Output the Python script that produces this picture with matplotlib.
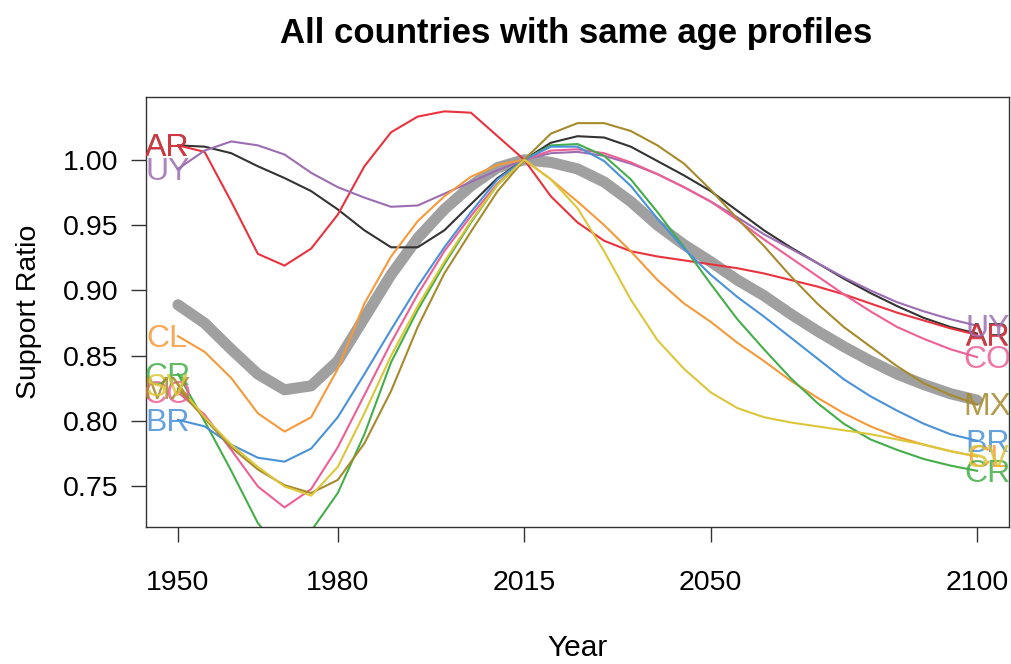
import matplotlib
matplotlib.use("Agg")
import matplotlib.pyplot as plt
from matplotlib.transforms import offset_copy

plt.rcParams['font.family'] = ['Liberation Sans', 'DejaVu Sans']

years = list(range(1950, 2101, 5))

mean_sr = [0.889, 0.875, 0.855, 0.836, 0.824, 0.827, 0.846, 0.879, 0.912, 0.940,
           0.962, 0.980, 0.994, 1.000, 0.998, 0.993, 0.983, 0.968, 0.950, 0.935,
           0.922, 0.908, 0.896, 0.882, 0.869, 0.857, 0.846, 0.836, 0.828, 0.821, 0.816]

ar = [1.011, 1.010, 1.005, 0.995, 0.986, 0.976, 0.962, 0.946, 0.933, 0.933,
      0.946, 0.966, 0.986, 1.000, 1.013, 1.018, 1.017, 1.010, 0.999, 0.988,
      0.976, 0.961, 0.946, 0.933, 0.921, 0.909, 0.898, 0.888, 0.879, 0.872, 0.867]

ar_red = [1.011, 1.006, 0.968, 0.928, 0.919, 0.932, 0.958, 0.995, 1.021, 1.033,
          1.037, 1.036, 1.018, 1.000, 0.972, 0.952, 0.938, 0.930, 0.926, 0.923,
          0.920, 0.917, 0.913, 0.908, 0.903, 0.897, 0.890, 0.883, 0.877, 0.871, 0.866]

uy = [0.993, 1.007, 1.014, 1.011, 1.004, 0.990, 0.979, 0.971, 0.964, 0.965,
      0.974, 0.983, 0.992, 1.000, 1.005, 1.006, 1.003, 0.997, 0.989, 0.979,
      0.968, 0.956, 0.943, 0.932, 0.921, 0.910, 0.900, 0.891, 0.884, 0.878, 0.873]

co = [0.822, 0.805, 0.778, 0.750, 0.734, 0.748, 0.780, 0.820, 0.860, 0.897,
      0.930, 0.957, 0.982, 1.000, 1.007, 1.008, 1.005, 0.998, 0.989, 0.979,
      0.968, 0.954, 0.939, 0.925, 0.911, 0.897, 0.884, 0.872, 0.863, 0.855, 0.849]

cl = [0.865, 0.853, 0.833, 0.806, 0.792, 0.803, 0.840, 0.890, 0.926, 0.953,
      0.972, 0.987, 0.996, 1.000, 0.985, 0.968, 0.950, 0.930, 0.908, 0.890,
      0.876, 0.860, 0.846, 0.831, 0.818, 0.806, 0.796, 0.788, 0.782, 0.777, 0.773]

cr = [0.836, 0.800, 0.762, 0.722, 0.698, 0.716, 0.745, 0.790, 0.845, 0.885,
      0.920, 0.952, 0.981, 1.000, 1.011, 1.012, 1.003, 0.985, 0.960, 0.933,
      0.905, 0.878, 0.855, 0.833, 0.814, 0.798, 0.786, 0.778, 0.771, 0.766, 0.762]

br = [0.801, 0.796, 0.782, 0.772, 0.769, 0.779, 0.803, 0.836, 0.870, 0.903,
      0.933, 0.960, 0.985, 1.000, 1.010, 1.010, 0.999, 0.980, 0.955, 0.932,
      0.912, 0.895, 0.880, 0.864, 0.848, 0.832, 0.819, 0.808, 0.798, 0.790, 0.785]

mx = [0.825, 0.802, 0.780, 0.763, 0.751, 0.745, 0.755, 0.783, 0.823, 0.872,
      0.913, 0.945, 0.976, 1.000, 1.020, 1.028, 1.028, 1.022, 1.011, 0.997,
      0.977, 0.955, 0.934, 0.911, 0.890, 0.872, 0.857, 0.842, 0.829, 0.820, 0.813]

sv = [0.828, 0.803, 0.782, 0.765, 0.750, 0.743, 0.765, 0.806, 0.850, 0.888,
      0.922, 0.953, 0.981, 1.000, 0.985, 0.963, 0.930, 0.893, 0.862, 0.840,
      0.822, 0.810, 0.803, 0.799, 0.796, 0.793, 0.790, 0.786, 0.782, 0.777, 0.773]

labels = ["AR", "AR", "UY", "CO", "CL", "CR", "BR", "MX", "SV"]
series = [ar, ar_red, uy, co, cl, cr, br, mx, sv]
colors = ["#333333", "#E8333F", "#9C6DB2", "#EE5F95", "#F59A3A",
          "#45AE4A", "#4A92D8", "#A68A2C", "#DCC63A"]

xticks = [1950, 1980, 2015, 2050, 2100]
yticks = [0.75, 0.80, 0.85, 0.90, 0.95, 1.00]

fig = plt.figure(figsize=(10.12, 6.64), dpi=100)
ax = fig.add_axes([146 / 1012, 1 - 527 / 664, (1009 - 146) / 1012, (527 - 97) / 664])
label_tr = offset_copy(ax.transData, fig=fig, x=0, y=-3, units="dots")

ax.plot(years, mean_sr, color="#A0A0A0", lw=8, solid_capstyle="round", zorder=1)
for lab, s, c in zip(labels, series, colors):
    ax.plot(years, s, color=c, lw=1.5, zorder=2)
    ax.text(years[0] - 2, s[0], lab, color=c, fontsize=23, ha="center",
            va="center", alpha=0.85, clip_on=True, zorder=3, transform=label_tr)
    ax.text(years[-1] + 2, s[-1], lab, color=c, fontsize=23, ha="center",
            va="center", alpha=0.85, clip_on=True, zorder=3, transform=label_tr)

ax.set_xlim(1944, 2106)
ax.set_ylim(0.719, 1.048)
ax.set_xticks(xticks)
ax.set_xticklabels([str(x) for x in xticks])
ax.set_yticks(yticks)
ax.set_yticklabels(["%.2f" % y for y in yticks])
ax.tick_params(axis="x", labelsize=20.5, length=11, width=1, color="#333333",
               direction="out", pad=20)
ax.tick_params(axis="y", labelsize=20.5, length=11, width=1, color="#333333",
               direction="out", pad=9)
for sp in ax.spines.values():
    sp.set_color("#333333")
    sp.set_linewidth(1.0)

ax.set_xlabel("Year", fontsize=21.5, labelpad=27)
ax.set_ylabel("Support Ratio", fontsize=20.5, labelpad=15)
fig.text(576 / 1012, 1 - 33 / 664, "All countries with same age profiles",
         fontsize=25, fontweight="bold", ha="center", va="center")

fig.savefig("out.png", dpi=100)
